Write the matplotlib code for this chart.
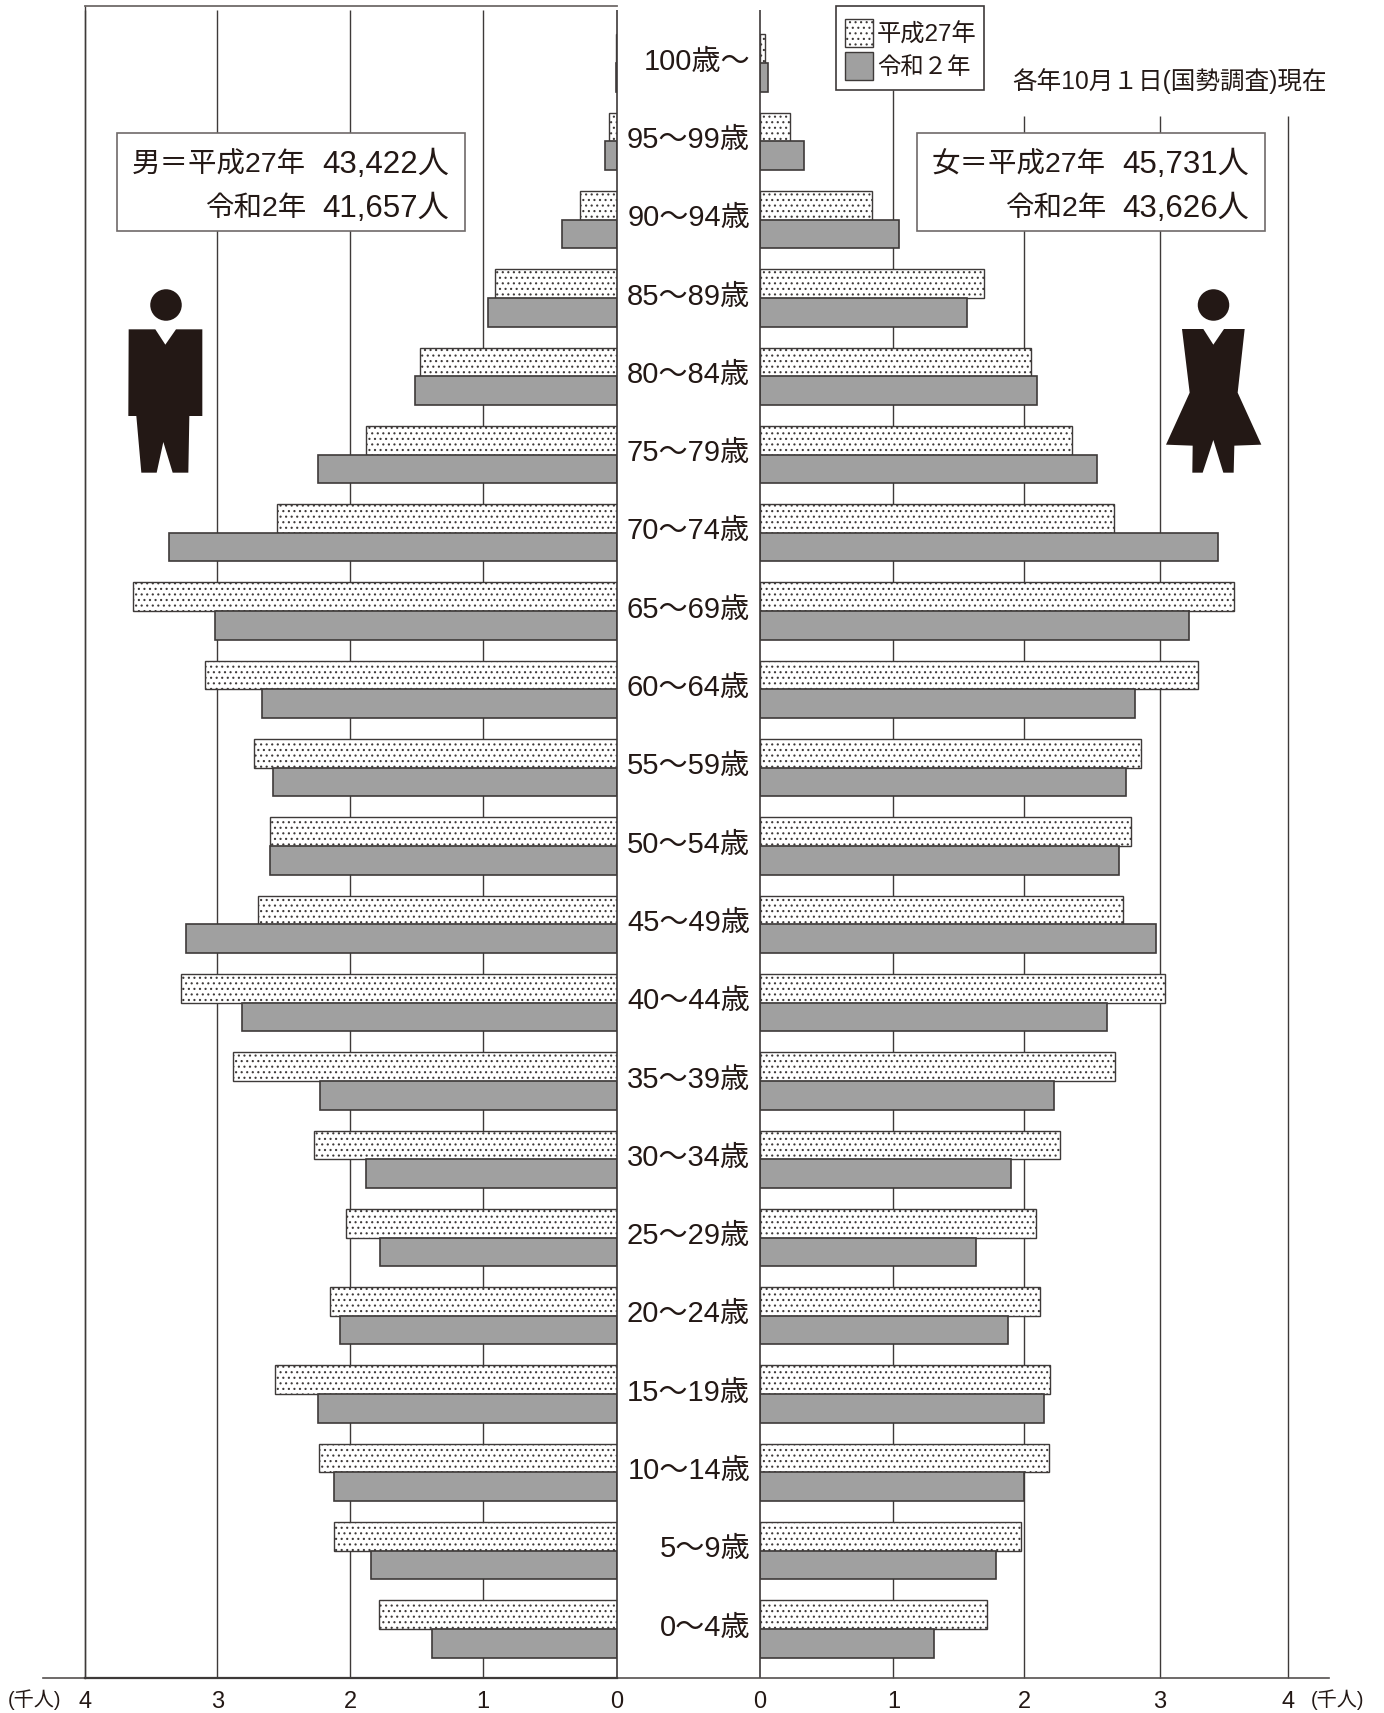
import matplotlib
matplotlib.use("Agg")
import matplotlib.pyplot as plt
from matplotlib.patches import Polygon, Ellipse, Rectangle

plt.rcParams['font.family'] = ['Liberation Sans', 'Noto Sans CJK JP', 'DejaVu Sans']
plt.rcParams['hatch.linewidth'] = 0.8

age_labels = ["100歳～", "95～99歳", "90～94歳", "85～89歳", "80～84歳", "75～79歳", "70～74歳",
              "65～69歳", "60～64歳", "55～59歳", "50～54歳", "45～49歳", "40～44歳", "35～39歳",
              "30～34歳", "25～29歳", "20～24歳", "15～19歳", "10～14歳", "5～9歳", "0～4歳"]
male_h27 = [0.005, 0.06, 0.28, 0.92, 1.48, 1.89, 2.56, 3.64, 3.10, 2.73, 2.61,
            2.70, 3.28, 2.89, 2.28, 2.04, 2.16, 2.57, 2.24, 2.13, 1.79]
male_r2 = [0.01, 0.09, 0.41, 0.97, 1.52, 2.25, 3.37, 3.02, 2.67, 2.59, 2.61,
           3.24, 2.82, 2.23, 1.89, 1.78, 2.08, 2.25, 2.13, 1.85, 1.39]
female_h27 = [0.04, 0.23, 0.845, 1.70, 2.05, 2.36, 2.68, 3.59, 3.32, 2.89, 2.81,
              2.75, 3.07, 2.69, 2.27, 2.09, 2.12, 2.20, 2.19, 1.98, 1.72]
female_r2 = [0.06, 0.33, 1.05, 1.57, 2.10, 2.55, 3.47, 3.25, 2.84, 2.77, 2.72,
             3.00, 2.63, 2.23, 1.90, 1.64, 1.88, 2.15, 2.00, 1.79, 1.32]
tick_labels = ["0", "1", "2", "3", "4"]

W, H = 1384, 1713
DARK = '#3e3a39'
TXT = '#231815'
GREY = '#a0a0a0'
fig = plt.figure(figsize=(W / 100, H / 100), dpi=100, facecolor='white')


def axes_px(x0, x1, y0, y1):
    return fig.add_axes([x0 / W, 1 - y1 / H, (x1 - x0) / W, (y1 - y0) / H])


Y_TOP, Y_BOT = 6, 1678
ROW0, ROW = 63.0, 78.3
BAR = 0.3665
ylim = ((Y_BOT - ROW0) / ROW, (Y_TOP - ROW0) / ROW)
ys = list(range(len(age_labels)))


def row_at(px):
    return (px - ROW0) / ROW


axL = axes_px(85, 617, Y_TOP, Y_BOT)
axR = axes_px(760, 1288, Y_TOP, Y_BOT)
axL.set_xlim(4, 0)
axR.set_xlim(0, 4)
# printed gridlines are slightly uneven in the source
gridL = [0, 1.01, 2.005, 3.005, 4]
gridR = [0, 1.01, 2.0, 3.03, 4]

for ax, h27, r2, grid, starts in (
        (axL, male_h27, male_r2, gridL, [10, 10, 10, 10]),
        (axR, female_h27, female_r2, gridR, [90, 116, 116, 116])):
    ax.set_ylim(*ylim)
    ax.patch.set_alpha(0)
    for s in ax.spines.values():
        s.set_visible(False)
    for g, st in zip(grid[1:], starts):
        ax.vlines(g, row_at(st), row_at(Y_BOT), color=DARK, lw=1.0, zorder=1, clip_on=False)
    ax.vlines(0, row_at(10), row_at(Y_BOT), color=DARK, lw=1.2, zorder=4, clip_on=False)
    ax.barh([y - BAR / 2 for y in ys], h27, height=BAR, color='white', edgecolor=DARK,
            hatch='...', linewidth=1.0, zorder=3)
    ax.barh([y + BAR / 2 for y in ys], r2, height=BAR, color=GREY, edgecolor=DARK,
            linewidth=1.2, zorder=3)
    ax.set_yticks([])
    ax.set_xticks(grid, tick_labels, fontsize=17, color=TXT)
    ax.tick_params(axis='x', length=0, pad=9)

axL.spines['top'].set_visible(True)
axL.spines['top'].set_color('#6f6a69')
axL.spines['top'].set_linewidth(1.3)
axL.spines['left'].set_visible(True)
axL.spines['left'].set_color(DARK)
axL.spines['left'].set_linewidth(1.0)

for y, lab in zip(ys, age_labels):
    axR.annotate(lab, xy=(0, y), xytext=(-7.2, 1.0), textcoords='offset points', ha='right',
                 va='center', fontsize=21, color=TXT, annotation_clip=False)

# overlay in pixel coordinates for furniture
ov = fig.add_axes([0, 0, 1, 1], zorder=10)
ov.set_xlim(0, W)
ov.set_ylim(H, 0)
ov.axis('off')
ov.patch.set_alpha(0)

ov.plot([43, 1329], [1678, 1678], color='#55504f', lw=1.2)
ov.plot([85, 617], [1678, 1678], color=DARK, lw=1.6)

for x0, x1 in ((116.5, 464.5), (916.5, 1264.5)):
    ov.add_patch(Rectangle((x0, 132.5), x1 - x0, 98.5, fc='white', ec='#6f6a69', lw=1.2))
ov.add_patch(Rectangle((835.5, 5.7), 148, 84.5, fc='white', ec=DARK, lw=1.2))
ov.add_patch(Rectangle((844.5, 19), 28.5, 28, fc='white', ec=DARK, lw=1.0, hatch='...'))
ov.add_patch(Rectangle((844.5, 52), 28.5, 28, fc=GREY, ec=DARK, lw=1.0))


def t(x, y, s, size, ha='right'):
    ov.text(x, y, s, fontsize=size, ha=ha, va='center', color=TXT)


t(877, 35, "平成27年", 17.5, 'left')
t(877, 67, "令和２年", 16.8, 'left')
t(1327, 81, "各年10月１日(国勢調査)現在", 17.7)
t(306, 165, "男＝平成27年", 20.5)
t(449, 165, "43,422人", 22.5)
t(306, 209, "令和2年", 20.5)
t(449, 209, "41,657人", 22.5)
t(1106, 165, "女＝平成27年", 20.5)
t(1249, 165, "45,731人", 22.5)
t(1106, 209, "令和2年", 20.5)
t(1249, 209, "43,626人", 22.5)
t(8, 1700, "(千人)", 14.5, 'left')
t(1311, 1700, "(千人)", 14.5, 'left')

ICON = '#231815'
man = [(86, 178), (166, 178), (196, 224), (228, 178), (307, 178), (307, 438), (268, 438),
       (265, 608), (218, 608), (190, 516), (170, 608), (124, 608), (109, 438), (85, 438)]
woman = [(96, 177), (160, 177), (190, 224), (222, 177), (284, 177), (263, 368), (334, 524),
         (253, 527), (251, 608), (220, 608), (190, 510), (158, 608), (127, 608), (128, 527),
         (48, 524), (119, 368)]
ov.add_patch(Polygon([(100 + x / 3, 270 + y / 3) for x, y in man], closed=True, fc=ICON, ec='none'))
ov.add_patch(Polygon([(1150 + x / 3, 270 + y / 3) for x, y in woman], closed=True, fc=ICON, ec='none'))
ov.add_patch(Ellipse((166, 305), 31.5, 31.5, fc=ICON, ec='none'))
ov.add_patch(Ellipse((1213.5, 305), 31.5, 31.5, fc=ICON, ec='none'))

fig.savefig('out.png', dpi=100, facecolor='white')
